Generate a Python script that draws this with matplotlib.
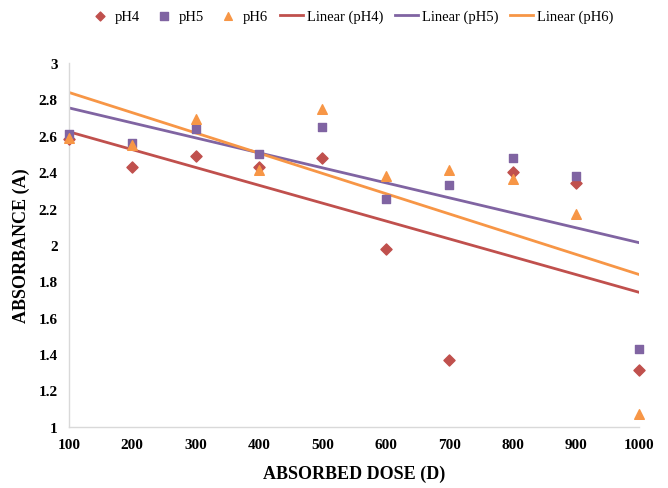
import matplotlib
matplotlib.use("Agg")
import matplotlib.pyplot as plt
import numpy as np

dose = [100, 200, 300, 400, 500, 600, 700, 800, 900, 1000]
ph4 = [2.58, 2.43, 2.49, 2.43, 2.48, 1.98, 1.37, 2.40, 2.34, 1.31]
ph5 = [2.61, 2.56, 2.64, 2.50, 2.65, 2.25, 2.33, 2.48, 2.38, 1.43]
ph6 = [2.59, 2.55, 2.69, 2.41, 2.75, 2.38, 2.41, 2.36, 2.17, 1.07]
yticks = [1, 1.2, 1.4, 1.6, 1.8, 2, 2.2, 2.4, 2.6, 2.8, 3]
ytick_labels = ["1", "1.2", "1.4", "1.6", "1.8", "2", "2.2", "2.4", "2.6", "2.8", "3"]

c4, c5, c6 = "#C0504D", "#8064A2", "#F79646"

plt.rcParams['font.family'] = ['Liberation Serif', 'DejaVu Serif']
fig = plt.figure(figsize=(6.68, 4.89), dpi=100)
ax = fig.add_axes([0.103, 0.125, 0.854, 0.744])

x = np.array(dose, dtype=float)
h = []
h.append(ax.scatter(dose, ph4, marker='D', s=32, color=c4, clip_on=False, zorder=3, label='pH4'))
h.append(ax.scatter(dose, ph5, marker='s', s=40, color=c5, clip_on=False, zorder=3, label='pH5'))
h.append(ax.scatter(dose, ph6, marker='^', s=48, color=c6, clip_on=False, zorder=3, label='pH6'))
for ys, c, name in [(ph4, c4, 'pH4'), (ph5, c5, 'pH5'), (ph6, c6, 'pH6')]:
    m, b = np.polyfit(x, np.array(ys), 1)
    ln, = ax.plot(x, m * x + b, color=c, lw=2, label=f'Linear ({name})', zorder=2)
    h.append(ln)

ax.set_xlim(100, 1000)
ax.set_ylim(1, 3)
ax.set_xticks(dose)
ax.set_xticklabels([str(d) for d in dose])
ax.set_yticks(yticks)
ax.set_yticklabels(ytick_labels)
for lab in ax.get_xticklabels() + ax.get_yticklabels():
    lab.set_fontweight('bold')
    lab.set_fontsize(11)
ax.tick_params(length=0, pad=8)
for s in ['top', 'right']:
    ax.spines[s].set_visible(False)
for s in ['left', 'bottom']:
    ax.spines[s].set_color('#D9D9D9')
    ax.spines[s].set_linewidth(1)

ax.set_xlabel('ABSORBED DOSE (D)', fontsize=13, fontweight='bold', labelpad=10)
ax.set_ylabel('ABSORBANCE (A)', fontsize=13, fontweight='bold', labelpad=6)

fig.legend(handles=h, loc='upper center', bbox_to_anchor=(0.525, 1.005), ncol=6, frameon=False,
           fontsize=10.5, handlelength=1.6, handletextpad=0.25, columnspacing=0.8,
           markerscale=0.8)

fig.savefig('out.png', dpi=100)
